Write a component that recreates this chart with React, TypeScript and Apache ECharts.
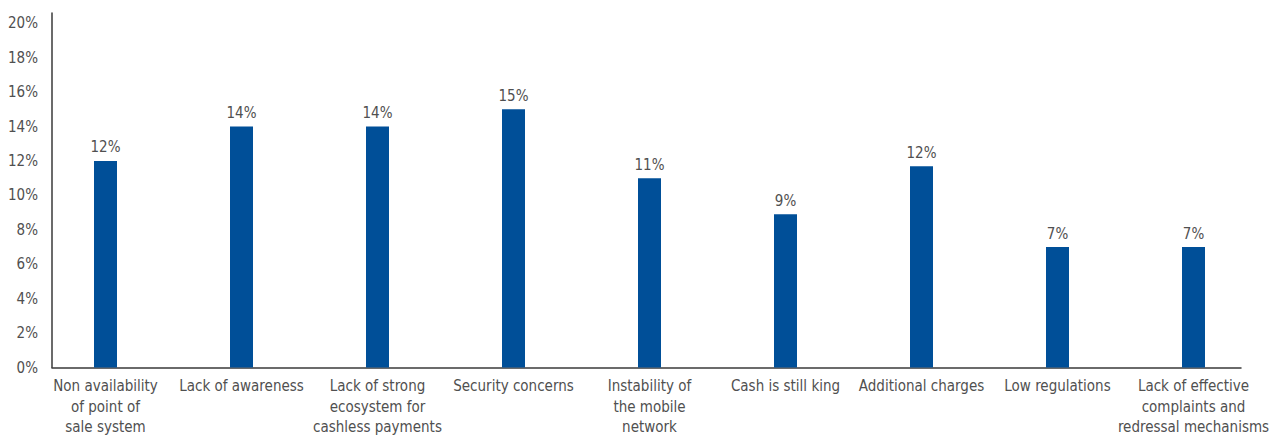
import React, { useEffect, useRef } from "react";
import * as echarts from "echarts";

const categories = [
  "Non availability\nof point of\nsale system",
  "Lack of awareness",
  "Lack of strong\necosystem for\ncashless payments",
  "Security concerns",
  "Instability of\nthe mobile\nnetwork",
  "Cash is still king",
  "Additional charges",
  "Low regulations",
  "Lack of effective\ncomplaints and\nredressal mechanisms",
];
const values = [12, 14, 14, 15, 11, 8.9, 11.7, 7, 7];
const yMin = 0;
const yMax = 20.6;
const yInterval = 2;

const FONT = "'Liberation Sans Narrow', 'DejaVu Sans Condensed', 'Roboto', sans-serif";
const TEXT = "#505050";
const BAR = "#004f98";
const AXIS = "#3a3a3a";

export default function App() {
  const ref = useRef<HTMLDivElement>(null);
  useEffect(() => {
    if (!ref.current) return;
    const chart = echarts.init(ref.current, null, { renderer: "svg" });
    chart.setOption({
      animation: false,
      backgroundColor: "#ffffff",
      textStyle: { fontFamily: FONT },
      grid: [
        { left: 37.5, right: 15.5, top: 13, bottom: 70.5, containLabel: false, outerBoundsMode: "none" },
        { left: 52, right: 36, top: 13, bottom: 70.5, containLabel: false, outerBoundsMode: "none" },
      ],
      xAxis: [
        {
          type: "category",
          gridIndex: 0,
          data: categories,
          axisLine: { show: false },
          axisTick: { show: false },
          axisLabel: {
            interval: 0,
            margin: 8.5,
            color: TEXT,
            fontSize: 15,
            lineHeight: 20.5,
            fontFamily: FONT,
          },
        },
        {
          type: "value",
          gridIndex: 1,
          axisLine: { show: true, onZero: false, lineStyle: { color: AXIS, width: 1.5 } },
          axisTick: { show: false },
          axisLabel: { show: false },
          splitLine: { show: false },
        },
      ],
      yAxis: [
        {
          type: "value",
          gridIndex: 0,
          min: yMin,
          max: yMax,
          interval: yInterval,
          show: false,
          splitLine: { show: false },
        },
        {
          type: "value",
          gridIndex: 1,
          min: yMin,
          max: yMax,
          interval: yInterval,
          axisLine: { show: true, onZero: false, lineStyle: { color: AXIS, width: 1.5 } },
          axisTick: { show: false },
          splitLine: { show: false },
          axisLabel: {
            margin: 14,
            color: TEXT,
            fontSize: 15,
            fontFamily: FONT,
            formatter: (v: number) =>
              Math.abs(v / yInterval - Math.round(v / yInterval)) < 1e-6 ? `${Math.round(v)}%` : "",
          },
        },
      ],
      series: [
        {
          type: "bar",
          xAxisIndex: 0,
          yAxisIndex: 0,
          data: values,
          barWidth: 23,
          itemStyle: { color: BAR },
          label: {
            show: true,
            position: "top",
            distance: 6,
            color: TEXT,
            fontSize: 15,
            fontFamily: FONT,
            formatter: (p: any) => `${Math.round(p.value)}%`,
          },
        },
      ],
    });
    return () => chart.dispose();
  }, []);
  return (
    <div
      ref={ref}
      style={{ position: "absolute", left: 0, top: 0, width: 1277, height: 438 }}
    />
  );
}
